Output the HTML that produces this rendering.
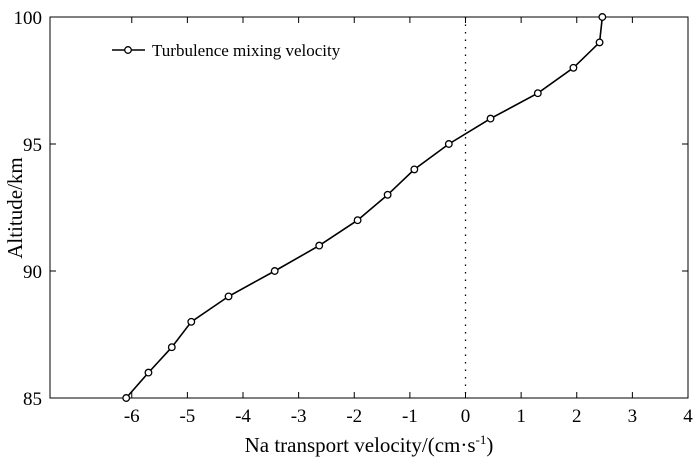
<!DOCTYPE html>
<html><head><meta charset="utf-8"><style>
body{margin:0;background:#fff;}
svg text{font-family:"Liberation Serif",serif;fill:#000;}
</style></head><body>
<svg id="chart" width="700" height="465" viewBox="0 0 700 465"></svg>
<script>
const altitudes=[85,86,87,88,89,90,91,92,93,94,95,96,97,98,99,100];
const velocities=[-6.1,-5.7,-5.28,-4.93,-4.26,-3.43,-2.63,-1.94,-1.4,-0.92,-0.3,0.45,1.3,1.94,2.41,2.46];
const xTicks=[-6,-5,-4,-3,-2,-1,0,1,2,3,4];
const yTicks=[85,90,95,100];
const L=50,R=688,T=17,B=398,xmin=-7.47,xmax=4,ymin=85,ymax=100;
const sx=v=>L+(v-xmin)/(xmax-xmin)*(R-L);
const sy=v=>B-(v-ymin)/(ymax-ymin)*(B-T);
const svg=document.getElementById('chart');const NS='http://www.w3.org/2000/svg';
function mk(tag,attrs,parent){const e=document.createElementNS(NS,tag);for(const k in attrs)e.setAttribute(k,attrs[k]);(parent||svg).appendChild(e);return e;}
let e=mk('rect',{x:L,y:T,width:R-L,height:B-T,fill:'none',stroke:'#000','stroke-width':1});


e=mk('line',{x1:sx(0),x2:sx(0),y1:T,y2:B,stroke:'#000','stroke-width':1.3,'stroke-dasharray':'1.5,6'});


xTicks.forEach(t=>{const x=sx(t);
mk('line',{x1:x,x2:x,y1:B,y2:B-6,stroke:'#000'});mk('line',{x1:x,x2:x,y1:T,y2:T+6,stroke:'#000'});
const tx=mk('text',{x:x,y:B+24,'text-anchor':'middle','font-size':19});tx.textContent=t;

});
yTicks.forEach(t=>{const y=sy(t);
mk('line',{x1:L,x2:L+6,y1:y,y2:y,stroke:'#000'});mk('line',{x1:R,x2:R-6,y1:y,y2:y,stroke:'#000'});
const tx=mk('text',{x:L-8,y:y+7,'text-anchor':'end','font-size':19});tx.textContent=t;

});
const pts=velocities.map((v,i)=>sx(v)+','+sy(altitudes[i])).join(' ');
e=mk('polyline',{points:pts,fill:'none',stroke:'#000','stroke-width':1.6});


velocities.forEach((v,i)=>{const c=mk('circle',{cx:sx(v),cy:sy(altitudes[i]),r:3.3,fill:'#fff',stroke:'#000','stroke-width':1.3});

});
</script>
<svg style="position:absolute;left:0;top:0" width="700" height="465">
<g>
<line x1="112" x2="145" y1="50" y2="50" stroke="#000" stroke-width="1.6"/>
<circle cx="128" cy="50" r="3.3" fill="#fff" stroke="#000" stroke-width="1.3"/>
<text x="152" y="56" font-size="17">Turbulence mixing velocity</text>
</g>
<text x="369" y="452" text-anchor="middle" font-size="21">Na transport velocity/(cm·s<tspan font-size="13" dy="-8">-1</tspan><tspan dy="8">)</tspan></text>
<text transform="translate(22,208) rotate(-90)" text-anchor="middle" font-size="21">Altitude/km</text>
</svg>
</body></html>
